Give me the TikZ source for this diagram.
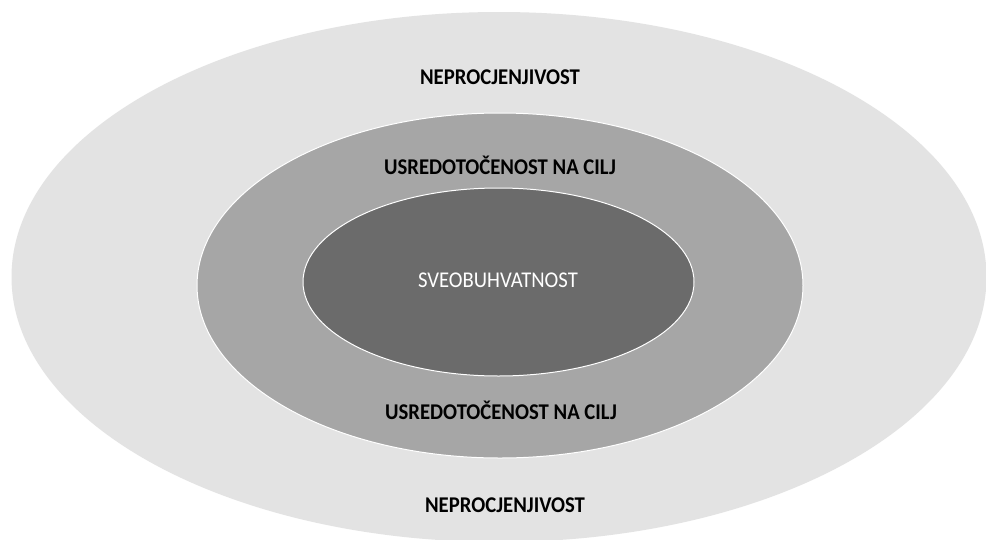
\documentclass[tikz,border=0pt]{standalone}
\usepackage{fontspec}
\setmainfont{Carlito}
\usetikzlibrary{shapes.geometric}
\definecolor{outergray}{HTML}{E3E3E3}
\definecolor{midgray}{HTML}{A6A6A6}
\definecolor{innergray}{HTML}{6B6B6B}
\newcommand{\narrowtext}[1]{\scalebox{0.92}[1]{#1}}
\tikzset{
  ring/.style={ellipse, inner sep=0pt, outer sep=0pt},
  boldlabel/.style={font=\fontsize{22.5}{26}\selectfont\bfseries, text=black, inner sep=0pt},
  lightlabel/.style={font=\fontsize{22.5}{26}\selectfont, text=white, inner sep=0pt}
}
\begin{document}
\begin{tikzpicture}[x=1pt,y=-1pt]
  \useasboundingbox[fill=white] (0,0) rectangle (986,539);
  \node[ring, fill=outergray, minimum width=975pt, minimum height=530pt] (outer) at (499,277) {};
  \node[ring, fill=midgray, draw=white, line width=1pt, minimum width=606pt, minimum height=345pt] (middle) at (500,285.5) {};
  \node[ring, fill=innergray, draw=white, line width=1pt, minimum width=391pt, minimum height=188pt] (inner) at (498.5,282) {};
  \node[boldlabel] (t1) at (500,77) {\narrowtext{NEPROCJENJIVOST}};
  \node[boldlabel] (t2) at (500,165) {\narrowtext{USREDOTOČENOST NA CILJ}};
  \node[lightlabel] (t3) at (498,280) {\narrowtext{SVEOBUHVATNOST}};
  \node[boldlabel] (t4) at (501,410) {\narrowtext{USREDOTOČENOST NA CILJ}};
  \node[boldlabel] (t5) at (505,505) {\narrowtext{NEPROCJENJIVOST}};
\end{tikzpicture}
\end{document}
